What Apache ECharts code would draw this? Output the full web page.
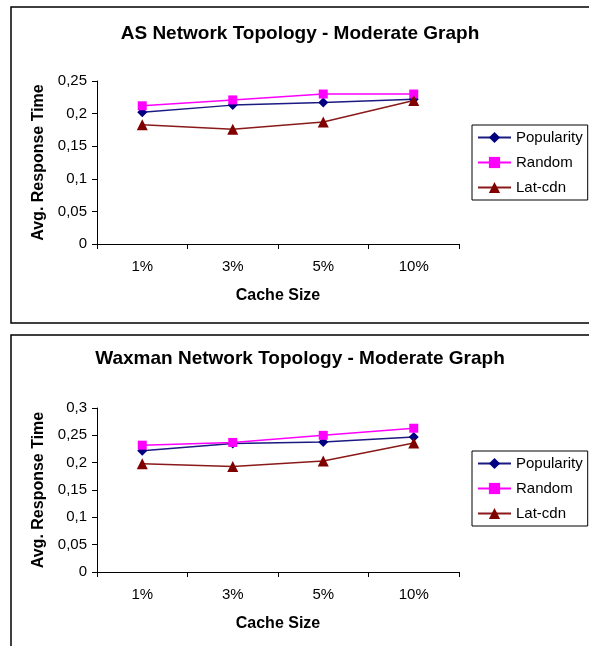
<!DOCTYPE html>
<html>
<head>
<meta charset="utf-8">
<script src="https://cdn.jsdelivr.net/npm/echarts@6/dist/echarts.min.js"></script>
<style>
html,body{margin:0;padding:0;background:#fff;}
#chart{width:589px;height:646px;}
</style>
</head>
<body>
<div id="chart"></div>
<script>
var categories = ['1%', '3%', '5%', '10%'];
var seriesNames = ['Popularity', 'Random', 'Lat-cdn'];
var titleAS = 'AS Network Topology - Moderate Graph';
var titleWaxman = 'Waxman Network Topology - Moderate Graph';
var xAxisName = 'Cache Size';
var yAxisName = 'Avg. Response Time';

var asPopularity = [0.202, 0.213, 0.217, 0.222];
var asRandom     = [0.212, 0.221, 0.230, 0.230];
var asLatcdn     = [0.183, 0.176, 0.187, 0.220];

var waxPopularity = [0.222, 0.235, 0.238, 0.247];
var waxRandom     = [0.232, 0.237, 0.250, 0.263];
var waxLatcdn     = [0.198, 0.193, 0.203, 0.236];

var asYMax = 0.25, waxYMax = 0.3, yStep = 0.05;

var FONT = 'Liberation Sans, Arial, sans-serif';
var colors = ['#000080', '#FF00FF', '#800000'];
var lineColors = ['#1a1a80', '#FF00FF', '#8a1a1a'];
var symbols = ['diamond', 'rect', 'triangle'];
var symbolSizes = [10, 9, 11];

function fmt(v) { return String(+v.toFixed(2)).replace('.', ','); }

function makeX(gridIndex) {
  return {
    type: 'category', gridIndex: gridIndex, data: categories, boundaryGap: true,
    name: xAxisName, nameLocation: 'middle', nameGap: 44,
    nameTextStyle: { fontFamily: FONT, fontSize: 16, fontWeight: 'bold', color: '#000' },
    axisLine: { lineStyle: { color: '#000', width: 1 } },
    axisTick: { show: true, inside: false, length: 5, alignWithLabel: false, lineStyle: { color: '#000' } },
    axisLabel: { fontFamily: FONT, fontSize: 15, color: '#000', margin: 15 },
    splitLine: { show: false }
  };
}
function makeY(gridIndex, max) {
  return {
    type: 'value', gridIndex: gridIndex, min: 0, max: max, interval: yStep,
    name: yAxisName, nameLocation: 'middle', nameGap: 50,
    nameTextStyle: { fontFamily: FONT, fontSize: 16, fontWeight: 'bold', color: '#000' },
    axisLine: { show: true, lineStyle: { color: '#000', width: 1 } },
    axisTick: { show: true, inside: false, length: 5, lineStyle: { color: '#000' } },
    axisLabel: { fontFamily: FONT, fontSize: 15, color: '#000', margin: 10, formatter: fmt },
    splitLine: { show: false }
  };
}
function makeSeries(idx, data, gridIndex) {
  return {
    name: seriesNames[idx], type: 'line', data: data,
    xAxisIndex: gridIndex, yAxisIndex: gridIndex,
    symbol: symbols[idx], symbolSize: symbolSizes[idx],
    itemStyle: { color: colors[idx] },
    lineStyle: { color: lineColors[idx], width: 1.5 },
    animation: false, z: 2 + idx
  };
}
function makeLegend(top) {
  return {
    data: seriesNames, orient: 'vertical', left: 472, top: top,
    padding: [5, 5, 5, 5], itemWidth: 33, itemHeight: 14, itemGap: 10,
    borderColor: '#000', borderWidth: 1, backgroundColor: '#fff',
    textStyle: { fontFamily: FONT, fontSize: 15, color: '#000' }
  };
}

var chart = echarts.init(document.getElementById('chart'), null, { renderer: 'canvas' });
chart.setOption({
  backgroundColor: '#fff',
  animation: false,
  graphic: [
    { type: 'rect', shape: { x: 11, y: 7, width: 620, height: 316 }, style: { fill: 'none', stroke: '#000', lineWidth: 1.5 }, z: -1 },
    { type: 'rect', shape: { x: 11, y: 335, width: 620, height: 400 }, style: { fill: 'none', stroke: '#000', lineWidth: 1.5 }, z: -1 }
  ],
  title: [
    { text: titleAS, left: 300, top: 34, textAlign: 'center', textVerticalAlign: 'middle', padding: 0,
      textStyle: { fontFamily: FONT, fontSize: 19, fontWeight: 'bold', color: '#000' } },
    { text: titleWaxman, left: 300, top: 359, textAlign: 'center', textVerticalAlign: 'middle', padding: 0,
      textStyle: { fontFamily: FONT, fontSize: 19, fontWeight: 'bold', color: '#000' } }
  ],
  legend: [ makeLegend(125), makeLegend(451) ],
  grid: [
    { left: 97, top: 81, width: 362, height: 163 },
    { left: 97, top: 408, width: 362, height: 164 }
  ],
  xAxis: [ makeX(0), makeX(1) ],
  yAxis: [ makeY(0, asYMax), makeY(1, waxYMax) ],
  series: [
    makeSeries(0, asPopularity, 0),
    makeSeries(1, asRandom, 0),
    makeSeries(2, asLatcdn, 0),
    makeSeries(0, waxPopularity, 1),
    makeSeries(1, waxRandom, 1),
    makeSeries(2, waxLatcdn, 1)
  ]
});
</script>
</body>
</html>
